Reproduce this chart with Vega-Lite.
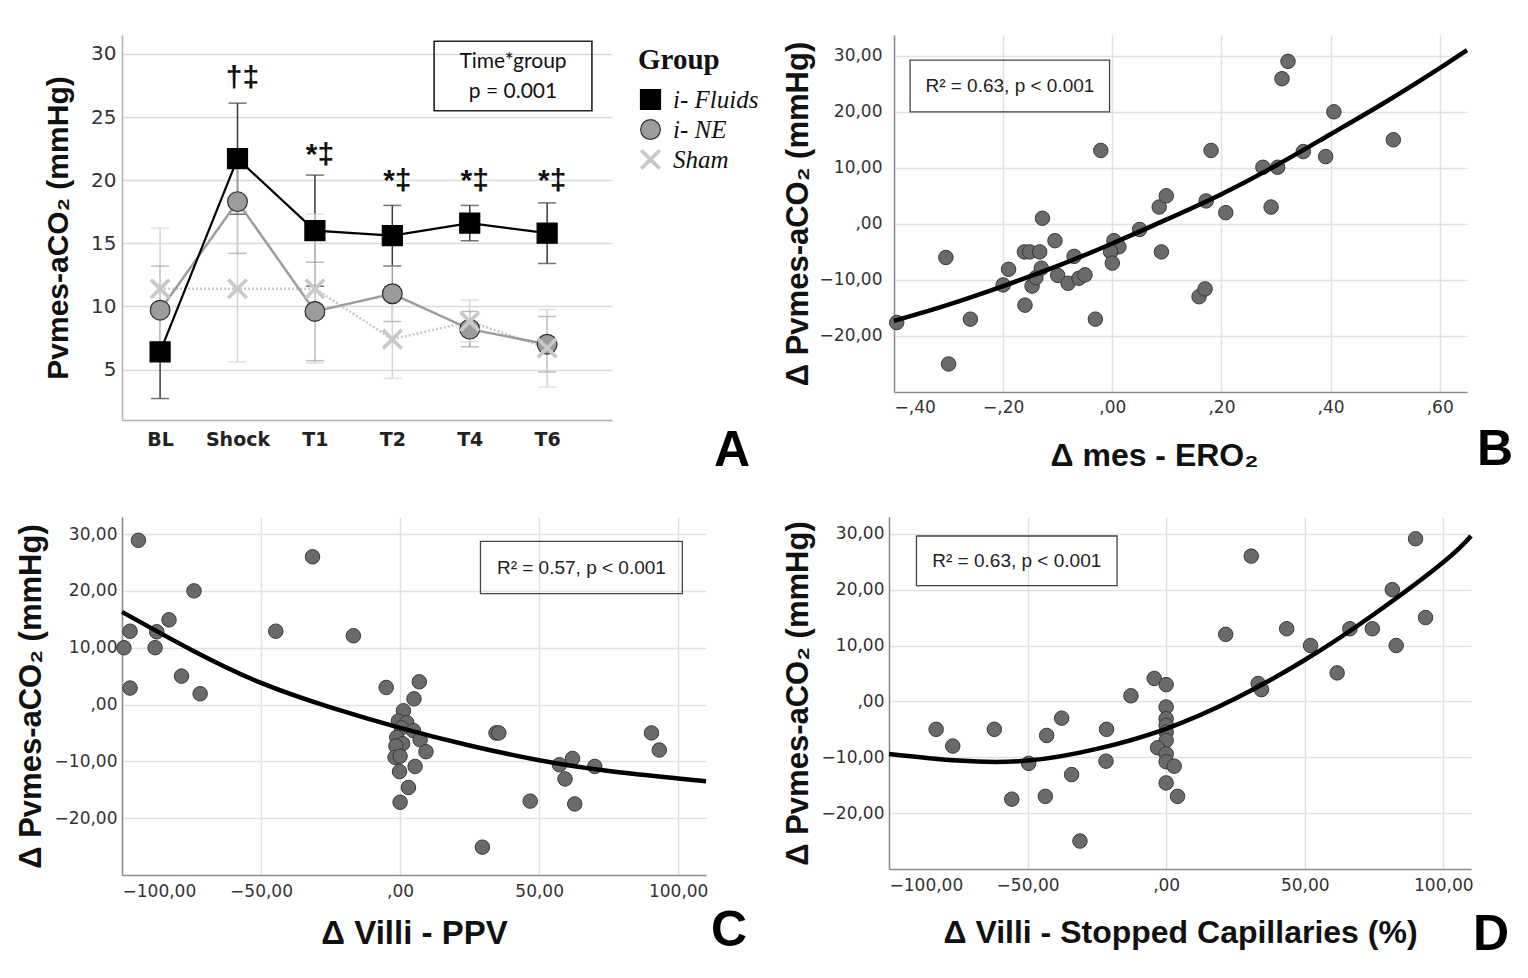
{
  "$schema": "https://vega.github.io/schema/vega-lite/v6.json",
  "background": "white",
  "padding": {"left": 15, "top": 35, "right": 5, "bottom": 5},
  "config": {
    "view": {"stroke": null},
    "axis": {"ticks": false, "domainColor": "#8c8c8c", "domainWidth": 1.5, "gridColor": "#e1e1e1", "gridWidth": 1.5, "labelColor": "#333333", "titleColor": "#111111", "labelFont": "DejaVu Sans", "titleFont": "Liberation Sans, DejaVu Sans", "titleFontWeight": "bold"},
    "title": {"font": "Liberation Sans", "fontWeight": "bold", "fontSize": 50, "color": "#000000"},
    "legend": {"titleFont": "Liberation Serif", "titleFontSize": 29, "titleFontWeight": "bold", "titleColor": "#111111", "labelFont": "Liberation Serif", "labelFontSize": 25, "labelFontStyle": "italic", "labelColor": "#111111", "offset": 15, "rowPadding": 4, "titlePadding": 12, "labelOffset": 10, "symbolStrokeWidth": 1.2, "padding": 11}
  },
  "columns": 2,
  "align": "none",
  "spacing": {"row": 41, "column": 12},
  "resolve": {"legend": {"fill": "independent", "stroke": "independent", "shape": "independent", "size": "independent"}},
  "concat": [
    {
      "width": 490,
      "height": 385,
      "title": {"text": "A", "orient": "bottom", "anchor": "end", "frame": "group", "align": "left", "dx": 102, "dy": -27},
      "resolve": {"scale": {"x": "independent"}},
      "layer": [
        {
          "data": {"values": [
            {"time": "BL", "group": "i- Fluids", "mean": 6.4, "lo": 2.7, "hi": 10.1},
            {"time": "Shock", "group": "i- Fluids", "mean": 21.7, "lo": 17.3, "hi": 26.1},
            {"time": "T1", "group": "i- Fluids", "mean": 16.0, "lo": 11.6, "hi": 20.4},
            {"time": "T2", "group": "i- Fluids", "mean": 15.6, "lo": 13.2, "hi": 18.0},
            {"time": "T4", "group": "i- Fluids", "mean": 16.6, "lo": 15.2, "hi": 18.0},
            {"time": "T6", "group": "i- Fluids", "mean": 15.8, "lo": 13.4, "hi": 18.2},
            {"time": "BL", "group": "i- NE", "mean": 9.7, "lo": 6.2, "hi": 13.2},
            {"time": "Shock", "group": "i- NE", "mean": 18.3, "lo": 14.2, "hi": 22.4},
            {"time": "T1", "group": "i- NE", "mean": 9.6, "lo": 5.7, "hi": 13.5},
            {"time": "T2", "group": "i- NE", "mean": 11.0, "lo": 8.8, "hi": 13.2},
            {"time": "T4", "group": "i- NE", "mean": 8.2, "lo": 6.8, "hi": 9.6},
            {"time": "T6", "group": "i- NE", "mean": 7.0, "lo": 4.8, "hi": 9.2},
            {"time": "BL", "group": "Sham", "mean": 11.4, "lo": 6.6, "hi": 16.2},
            {"time": "Shock", "group": "Sham", "mean": 11.4, "lo": 5.6, "hi": 17.5},
            {"time": "T1", "group": "Sham", "mean": 11.4, "lo": 5.5, "hi": 17.3},
            {"time": "T2", "group": "Sham", "mean": 7.4, "lo": 4.3, "hi": 10.5},
            {"time": "T4", "group": "Sham", "mean": 8.8, "lo": 7.2, "hi": 10.5},
            {"time": "T6", "group": "Sham", "mean": 6.7, "lo": 3.6, "hi": 9.75}
          ]},
          "layer": [
            {
              "mark": {"type": "rule", "strokeWidth": 1.5},
              "encoding": {
                "x": {"field": "time", "type": "ordinal", "scale": {"type": "point", "padding": 0.665, "align": 0.37, "domain": ["BL", "Shock", "T1", "T2", "T4", "T6"]}, "axis": {"labelFont": "DejaVu Sans", "labelFontWeight": "bold", "labelFontSize": 19, "labelColor": "#222222", "labelPadding": 10, "domainColor": "#b0b0b0", "grid": false, "labelAngle": 0}, "title": null},
                "y": {"field": "lo", "type": "quantitative", "scale": {"domain": [1, 31.5], "nice": false, "zero": false}, "axis": {"values": [5, 10, 15, 20, 25, 30], "grid": true, "gridColor": "#dadada", "labelFontSize": 20, "labelPadding": 6, "domainColor": "#b0b0b0", "titleFontSize": 30, "titlePadding": 17}, "title": "Pvmes-aCO₂  (mmHg)"},
                "y2": {"field": "hi"},
                "color": {"condition": [{"test": "datum.group === 'i- Fluids'", "value": "#3a3a3a"}, {"test": "datum.group === 'i- NE'", "value": "#a3a3a3"}], "value": "#d4d4d4"}
              }
            },
            {
              "mark": {"type": "tick", "orient": "horizontal", "size": 18, "thickness": 1.5},
              "encoding": {
                "x": {"field": "time", "type": "ordinal"},
                "y": {"field": "lo", "type": "quantitative"},
                "color": {"condition": [{"test": "datum.group === 'i- Fluids'", "value": "#3a3a3a"}, {"test": "datum.group === 'i- NE'", "value": "#a3a3a3"}], "value": "#d4d4d4"}
              }
            },
            {
              "mark": {"type": "tick", "orient": "horizontal", "size": 18, "thickness": 1.5},
              "encoding": {
                "x": {"field": "time", "type": "ordinal"},
                "y": {"field": "hi", "type": "quantitative"},
                "color": {"condition": [{"test": "datum.group === 'i- Fluids'", "value": "#3a3a3a"}, {"test": "datum.group === 'i- NE'", "value": "#a3a3a3"}], "value": "#d4d4d4"}
              }
            },
            {
              "transform": [{"filter": "datum.group === 'Sham'"}],
              "mark": {"type": "line", "color": "#c8c8c8", "strokeWidth": 2.5, "strokeDash": [2, 2]},
              "encoding": {"x": {"field": "time", "type": "ordinal"}, "y": {"field": "mean", "type": "quantitative"}}
            },
            {
              "transform": [{"filter": "datum.group === 'i- NE'"}],
              "mark": {"type": "line", "color": "#9d9d9d", "strokeWidth": 2.5},
              "encoding": {"x": {"field": "time", "type": "ordinal"}, "y": {"field": "mean", "type": "quantitative"}}
            },
            {
              "transform": [{"filter": "datum.group === 'i- Fluids'"}],
              "mark": {"type": "line", "color": "#000000", "strokeWidth": 2.2},
              "encoding": {"x": {"field": "time", "type": "ordinal"}, "y": {"field": "mean", "type": "quantitative"}}
            },
            {
              "mark": {"type": "point", "filled": true, "opacity": 1, "strokeWidth": 1.2},
              "encoding": {
                "x": {"field": "time", "type": "ordinal"},
                "y": {"field": "mean", "type": "quantitative"},
                "fill": {"field": "group", "type": "nominal", "scale": {"domain": ["i- Fluids", "i- NE", "Sham"], "range": ["#000000", "#9b9b9b", "#c9c9c9"]}, "title": "Group"},
                "stroke": {"field": "group", "type": "nominal", "scale": {"domain": ["i- Fluids", "i- NE", "Sham"], "range": ["#000000", "#2f2f2f", "#c9c9c9"]}, "title": "Group"},
                "shape": {"field": "group", "type": "nominal", "scale": {"domain": ["i- Fluids", "i- NE", "Sham"], "range": ["square", "circle", "M-0.82,-1L0,-0.18L0.82,-1L1,-0.82L0.18,0L1,0.82L0.82,1L0,0.18L-0.82,1L-1,0.82L-0.18,0L-1,-0.82Z"]}, "title": "Group"},
                "size": {"field": "group", "type": "nominal", "scale": {"domain": ["i- Fluids", "i- NE", "Sham"], "range": [400, 380, 230]}, "title": "Group"}
              }
            },
            {
              "data": {"values": [
                {"time": "Shock", "sig": "†‡", "pos": 28.1},
                {"time": "T1", "sig": "*‡", "pos": 22.0},
                {"time": "T2", "sig": "*‡", "pos": 19.9},
                {"time": "T4", "sig": "*‡", "pos": 19.9},
                {"time": "T6", "sig": "*‡", "pos": 19.9}
              ]},
              "mark": {"type": "text", "font": "Liberation Sans", "fontSize": 30, "fontWeight": "bold", "color": "#111111", "baseline": "middle", "dx": 5},
              "encoding": {"x": {"field": "time", "type": "ordinal"}, "y": {"field": "pos", "type": "quantitative"}, "text": {"field": "sig"}}
            }
          ]
        },
        {
          "data": {"values": [{"x1": 0.637, "x2": 0.959, "y1": 31.0, "y2": 25.5, "cx": 0.798, "cy": 29.37, "label": "Time*group\np = 0.001"}]},
          "layer": [
            {
              "mark": {"type": "rect", "fillOpacity": 0, "stroke": "#222222", "strokeWidth": 1.6},
              "encoding": {
                "x": {"field": "x1", "type": "quantitative", "scale": {"domain": [0, 1], "nice": false}, "axis": null},
                "x2": {"field": "x2"},
                "y": {"field": "y1", "type": "quantitative"},
                "y2": {"field": "y2"}
              }
            },
            {
              "mark": {"type": "text", "font": "Lato", "fontSize": 21, "color": "#111111", "lineBreak": "\n", "lineHeight": 30, "baseline": "middle"},
              "encoding": {
                "x": {"field": "cx", "type": "quantitative", "axis": null},
                "y": {"field": "cy", "type": "quantitative"},
                "text": {"field": "label"}
              }
            }
          ]
        }
      ]
    },
    {
      "width": 573,
      "height": 357,
      "title": {"text": "B", "orient": "bottom", "anchor": "end", "frame": "group", "align": "left", "dx": 10, "dy": -50},
      "layer": [
        {"mark": {"type": "rule", "color": "#555555", "strokeWidth": 1.6}, "encoding": {"x": {"datum": 0, "type": "quantitative"}}},
        {"mark": {"type": "rule", "color": "#555555", "strokeWidth": 1.6}, "encoding": {"y": {"datum": 0, "type": "quantitative"}}},
        {
          "data": {"values": [{"x1": -0.3705, "x2": -0.005, "y1": 29.2, "y2": 20.0, "cx": -0.1876, "cy": 24.6, "label": "R² = 0.63, p < 0.001"}]},
          "layer": [
            {"mark": {"type": "rect", "fillOpacity": 0, "stroke": "#444444", "strokeWidth": 1.3}, "encoding": {"x": {"field": "x1", "type": "quantitative"}, "x2": {"field": "x2"}, "y": {"field": "y1", "type": "quantitative"}, "y2": {"field": "y2"}}},
            {"mark": {"type": "text", "font": "Liberation Sans", "fontSize": 19, "color": "#222222", "baseline": "middle"}, "encoding": {"x": {"field": "cx", "type": "quantitative"}, "y": {"field": "cy", "type": "quantitative"}, "text": {"field": "label"}}}
          ]
        },
        {
          "data": {"values": [
            {"dx": -0.395, "dy": -17.6}, {"dx": -0.305, "dy": -6.0}, {"dx": -0.3, "dy": -25.0}, {"dx": -0.26, "dy": -17.0},
            {"dx": -0.2, "dy": -10.9}, {"dx": -0.19, "dy": -8.1}, {"dx": -0.161, "dy": -5.0}, {"dx": -0.151, "dy": -5.0},
            {"dx": -0.133, "dy": -5.0}, {"dx": -0.16, "dy": -14.5}, {"dx": -0.147, "dy": -11.1}, {"dx": -0.14, "dy": -9.6},
            {"dx": -0.13, "dy": -7.9}, {"dx": -0.128, "dy": 1.0}, {"dx": -0.105, "dy": -3.0}, {"dx": -0.1, "dy": -9.2},
            {"dx": -0.081, "dy": -10.6}, {"dx": -0.07, "dy": -5.8}, {"dx": -0.061, "dy": -9.7}, {"dx": -0.05, "dy": -9.1},
            {"dx": -0.031, "dy": -17.0}, {"dx": -0.021, "dy": 13.1}, {"dx": 0.003, "dy": -3.0}, {"dx": 0.012, "dy": -4.1},
            {"dx": -0.003, "dy": -5.0}, {"dx": 0.0, "dy": -7.0}, {"dx": 0.05, "dy": -1.0}, {"dx": 0.086, "dy": 3.0},
            {"dx": 0.099, "dy": 5.0}, {"dx": 0.09, "dy": -5.0}, {"dx": 0.159, "dy": -13.0}, {"dx": 0.17, "dy": -11.6},
            {"dx": 0.172, "dy": 4.1}, {"dx": 0.181, "dy": 13.1}, {"dx": 0.208, "dy": 2.0}, {"dx": 0.276, "dy": 10.1},
            {"dx": 0.291, "dy": 3.0}, {"dx": 0.303, "dy": 10.1}, {"dx": 0.311, "dy": 25.9}, {"dx": 0.322, "dy": 29.0},
            {"dx": 0.35, "dy": 12.9}, {"dx": 0.391, "dy": 12.0}, {"dx": 0.406, "dy": 20.0}, {"dx": 0.515, "dy": 15.0}
          ]},
          "mark": {"type": "circle", "size": 210, "fill": "#6a6a6a", "stroke": "#3a3a3a", "strokeWidth": 1, "opacity": 1},
          "encoding": {
            "x": {"field": "dx", "type": "quantitative", "scale": {"domain": [-0.4, 0.65], "nice": false, "zero": false}, "axis": {"values": [-0.4, -0.2, 0, 0.2, 0.4, 0.6], "labelExpr": "datum.value == 0 ? ',00' : replace(format(datum.value, '.2f'), '0.', ',')", "grid": true, "labelFontSize": 17, "labelPadding": 7, "titleFontSize": 32, "titlePadding": 25, "titleX": 260, "titleAlign": "center"}, "title": "Δ mes - ERO₂"},
            "y": {"field": "dy", "type": "quantitative", "scale": {"domain": [-30, 33.7], "nice": false, "zero": false}, "axis": {"values": [-20, -10, 0, 10, 20, 30], "labelExpr": "datum.value == 0 ? ',00' : replace(format(datum.value, '.2f'), '.', ',')", "grid": true, "labelFontSize": 17, "labelPadding": 12, "titleFontSize": 31, "titlePadding": 5}, "title": "Δ Pvmes-aCO₂ (mmHg)"}
          }
        },
        {
          "data": {"values": [
            {"cx": -0.4, "cy": -17.3}, {"cx": -0.3, "cy": -14.4}, {"cx": -0.2, "cy": -11.1}, {"cx": -0.1, "cy": -7.5},
            {"cx": 0.0, "cy": -3.5}, {"cx": 0.1, "cy": 0.8}, {"cx": 0.2, "cy": 5.3}, {"cx": 0.3, "cy": 10.4},
            {"cx": 0.4, "cy": 16.0}, {"cx": 0.5, "cy": 21.7}, {"cx": 0.6, "cy": 27.8}, {"cx": 0.65, "cy": 31.0}
          ]},
          "mark": {"type": "line", "color": "#000000", "strokeWidth": 4.5, "interpolate": "natural"},
          "encoding": {"x": {"field": "cx", "type": "quantitative"}, "y": {"field": "cy", "type": "quantitative"}}
        }
      ]
    },
    {
      "width": 584,
      "height": 358,
      "title": {"text": "C", "orient": "bottom", "anchor": "end", "frame": "group", "align": "left", "dx": 5, "dy": -48},
      "layer": [
        {"mark": {"type": "rule", "color": "#555555", "strokeWidth": 1.6}, "encoding": {"x": {"datum": 0, "type": "quantitative"}}},
        {"mark": {"type": "rule", "color": "#555555", "strokeWidth": 1.6}, "encoding": {"y": {"datum": 0, "type": "quantitative"}}},
        {
          "data": {"values": [{"x1": 28.9, "x2": 101.5, "y1": 28.7, "y2": 19.5, "cx": 65.2, "cy": 24.1, "label": "R² = 0.57, p < 0.001"}]},
          "layer": [
            {"mark": {"type": "rect", "fillOpacity": 0, "stroke": "#444444", "strokeWidth": 1.3}, "encoding": {"x": {"field": "x1", "type": "quantitative"}, "x2": {"field": "x2"}, "y": {"field": "y1", "type": "quantitative"}, "y2": {"field": "y2"}}},
            {"mark": {"type": "text", "font": "Liberation Sans", "fontSize": 19, "color": "#222222", "baseline": "middle"}, "encoding": {"x": {"field": "cx", "type": "quantitative"}, "y": {"field": "cy", "type": "quantitative"}, "text": {"field": "label"}}}
          ]
        },
        {
          "data": {"values": [
            {"dx": -94.1, "dy": 28.9}, {"dx": -97.1, "dy": 12.9}, {"dx": -99.3, "dy": 10.0}, {"dx": -97.1, "dy": 2.9},
            {"dx": -88.1, "dy": 10.0}, {"dx": -87.5, "dy": 12.8}, {"dx": -83.1, "dy": 14.9}, {"dx": -74.1, "dy": 20.0},
            {"dx": -78.6, "dy": 5.0}, {"dx": -71.9, "dy": 1.9}, {"dx": -44.7, "dy": 12.9}, {"dx": -31.5, "dy": 26.0},
            {"dx": -16.8, "dy": 12.1}, {"dx": -5.0, "dy": 3.0}, {"dx": 6.9, "dy": 4.0}, {"dx": 5.0, "dy": 1.0},
            {"dx": 1.2, "dy": -1.1}, {"dx": -0.6, "dy": -2.9}, {"dx": 2.4, "dy": -3.2}, {"dx": 0.5, "dy": -4.1},
            {"dx": 4.8, "dy": -4.6}, {"dx": -1.2, "dy": -5.8}, {"dx": 7.2, "dy": -6.2}, {"dx": 0.9, "dy": -6.9},
            {"dx": -1.5, "dy": -7.3}, {"dx": 9.3, "dy": -8.3}, {"dx": -1.8, "dy": -9.3}, {"dx": 0.0, "dy": -9.1},
            {"dx": 5.4, "dy": -10.9}, {"dx": -0.2, "dy": -11.8}, {"dx": 3.0, "dy": -14.6}, {"dx": 0.0, "dy": -17.2},
            {"dx": 29.6, "dy": -25.1}, {"dx": 34.5, "dy": -5.0}, {"dx": 35.5, "dy": -5.0}, {"dx": 46.8, "dy": -17.0},
            {"dx": 57.3, "dy": -10.6}, {"dx": 62.0, "dy": -9.5}, {"dx": 59.3, "dy": -13.1}, {"dx": 70.0, "dy": -10.9},
            {"dx": 62.8, "dy": -17.5}, {"dx": 90.4, "dy": -5.0}, {"dx": 93.2, "dy": -8.0}
          ]},
          "mark": {"type": "circle", "size": 210, "fill": "#6a6a6a", "stroke": "#3a3a3a", "strokeWidth": 1, "opacity": 1},
          "encoding": {
            "x": {"field": "dx", "type": "quantitative", "scale": {"domain": [-100, 110], "nice": false, "zero": false}, "axis": {"values": [-100, -50, 0, 50, 100], "labelExpr": "datum.value == 0 ? ',00' : replace(format(datum.value, '.2f'), '.', ',')", "grid": true, "labelFontSize": 17, "labelPadding": 8, "titleFontSize": 33, "titlePadding": 18}, "title": "Δ Villi - PPV"},
            "y": {"field": "dy", "type": "quantitative", "scale": {"domain": [-30, 33], "nice": false, "zero": false}, "axis": {"values": [-20, -10, 0, 10, 20, 30], "labelExpr": "datum.value == 0 ? ',00' : replace(format(datum.value, '.2f'), '.', ',')", "grid": true, "labelFontSize": 17, "labelPadding": 5, "titleFontSize": 31, "titlePadding": 7}, "title": "Δ Pvmes-aCO₂ (mmHg)"}
          }
        },
        {
          "data": {"values": [
            {"cx": -100, "cy": 16.3}, {"cx": -75, "cy": 9.6}, {"cx": -50, "cy": 3.8}, {"cx": -25, "cy": -0.5},
            {"cx": 0, "cy": -4.1}, {"cx": 25, "cy": -7.2}, {"cx": 50, "cy": -9.8}, {"cx": 75, "cy": -11.7},
            {"cx": 100, "cy": -13.0}, {"cx": 110, "cy": -13.5}
          ]},
          "mark": {"type": "line", "color": "#000000", "strokeWidth": 4.5, "interpolate": "natural"},
          "encoding": {"x": {"field": "cx", "type": "quantitative"}, "y": {"field": "cy", "type": "quantitative"}}
        }
      ]
    },
    {
      "width": 582,
      "height": 352,
      "title": {"text": "D", "orient": "bottom", "anchor": "end", "frame": "group", "align": "left", "dx": 2, "dy": -42},
      "layer": [
        {"mark": {"type": "rule", "color": "#555555", "strokeWidth": 1.6}, "encoding": {"x": {"datum": 0, "type": "quantitative"}}},
        {"mark": {"type": "rule", "color": "#555555", "strokeWidth": 1.6}, "encoding": {"y": {"datum": 0, "type": "quantitative"}}},
        {
          "data": {"values": [{"x1": -90.1, "x2": -17.7, "y1": 29.6, "y2": 20.7, "cx": -53.9, "cy": 25.2, "label": "R² = 0.63, p < 0.001"}]},
          "layer": [
            {"mark": {"type": "rect", "fillOpacity": 0, "stroke": "#444444", "strokeWidth": 1.3}, "encoding": {"x": {"field": "x1", "type": "quantitative"}, "x2": {"field": "x2"}, "y": {"field": "y1", "type": "quantitative"}, "y2": {"field": "y2"}}},
            {"mark": {"type": "text", "font": "Liberation Sans", "fontSize": 19, "color": "#222222", "baseline": "middle"}, "encoding": {"x": {"field": "cx", "type": "quantitative"}, "y": {"field": "cy", "type": "quantitative"}, "text": {"field": "label"}}}
          ]
        },
        {
          "data": {"values": [
            {"dx": -83.0, "dy": -5.0}, {"dx": -77.0, "dy": -8.0}, {"dx": -62.0, "dy": -5.0}, {"dx": -55.7, "dy": -17.5},
            {"dx": -49.6, "dy": -11.1}, {"dx": -43.1, "dy": -6.1}, {"dx": -37.7, "dy": -3.0}, {"dx": -43.6, "dy": -17.0},
            {"dx": -34.1, "dy": -13.1}, {"dx": -31.1, "dy": -25.0}, {"dx": -21.5, "dy": -5.0}, {"dx": -21.7, "dy": -10.7},
            {"dx": -12.7, "dy": 1.0}, {"dx": -4.3, "dy": 4.1}, {"dx": 0.0, "dy": 3.0}, {"dx": 0.0, "dy": -1.0},
            {"dx": 0.0, "dy": -3.1}, {"dx": 0.0, "dy": -4.3}, {"dx": 0.0, "dy": -5.5}, {"dx": 0.0, "dy": -7.0},
            {"dx": -3.1, "dy": -8.3}, {"dx": 0.0, "dy": -9.4}, {"dx": 0.0, "dy": -10.8}, {"dx": 2.9, "dy": -11.6},
            {"dx": 0.0, "dy": -14.6}, {"dx": 4.1, "dy": -17.0}, {"dx": 30.7, "dy": 26.0}, {"dx": 21.5, "dy": 12.0},
            {"dx": 33.2, "dy": 3.2}, {"dx": 34.4, "dy": 2.1}, {"dx": 43.5, "dy": 13.0}, {"dx": 52.1, "dy": 10.0},
            {"dx": 61.7, "dy": 5.1}, {"dx": 66.3, "dy": 13.0}, {"dx": 74.4, "dy": 13.0}, {"dx": 81.6, "dy": 20.0},
            {"dx": 83.0, "dy": 10.0}, {"dx": 90.0, "dy": 29.1}, {"dx": 93.6, "dy": 15.0}
          ]},
          "mark": {"type": "circle", "size": 210, "fill": "#6a6a6a", "stroke": "#3a3a3a", "strokeWidth": 1, "opacity": 1},
          "encoding": {
            "x": {"field": "dx", "type": "quantitative", "scale": {"domain": [-100, 110], "nice": false, "zero": false}, "axis": {"values": [-100, -50, 0, 50, 100], "labelExpr": "datum.value == 0 ? ',00' : replace(format(datum.value, '.2f'), '.', ',')", "grid": true, "labelFontSize": 17, "labelPadding": 8, "titleFontSize": 32, "titlePadding": 24}, "title": "Δ Villi - Stopped Capillaries (%)"},
            "y": {"field": "dy", "type": "quantitative", "scale": {"domain": [-30, 33], "nice": false, "zero": false}, "axis": {"values": [-20, -10, 0, 10, 20, 30], "labelExpr": "datum.value == 0 ? ',00' : replace(format(datum.value, '.2f'), '.', ',')", "grid": true, "labelFontSize": 17, "labelPadding": 5, "titleFontSize": 31, "titlePadding": 7}, "title": "Δ Pvmes-aCO₂ (mmHg)"}
          }
        },
        {
          "data": {"values": [
            {"cx": -100, "cy": -9.4}, {"cx": -75, "cy": -10.6}, {"cx": -50, "cy": -10.6}, {"cx": -25, "cy": -8.5},
            {"cx": 0, "cy": -4.9}, {"cx": 25, "cy": 0.5}, {"cx": 50, "cy": 7.4}, {"cx": 75, "cy": 15.6},
            {"cx": 100, "cy": 24.9}, {"cx": 110, "cy": 29.6}
          ]},
          "mark": {"type": "line", "color": "#000000", "strokeWidth": 4.5, "interpolate": "natural"},
          "encoding": {"x": {"field": "cx", "type": "quantitative"}, "y": {"field": "cy", "type": "quantitative"}}
        }
      ]
    }
  ]
}
